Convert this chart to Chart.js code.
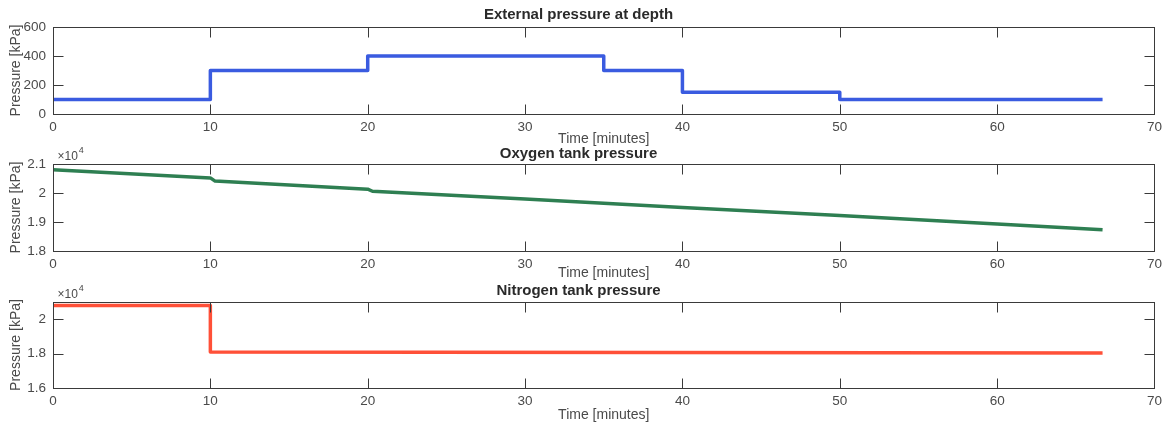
<!DOCTYPE html>
<html>
<head>
<meta charset="utf-8">
<script src="https://cdn.jsdelivr.net/npm/chart.js@4.4.1/dist/chart.umd.min.js"></script>
<style>
  html, body { margin: 0; padding: 0; background: #fff; }
  #wrap { position: relative; width: 1167px; height: 426px; overflow: hidden; background: #fff; }
  #wrap canvas { position: absolute; left: 0; }
</style>
</head>
<body>
<div id="wrap">
  <canvas id="extChart" width="1167" height="150" style="top:0px;width:1167px;height:150px"></canvas>
  <canvas id="o2Chart" width="1167" height="145" style="top:140px;width:1167px;height:145px"></canvas>
  <canvas id="n2Chart" width="1167" height="146" style="top:280px;width:1167px;height:146px"></canvas>
</div>
<script>
// Shared time axis (minutes)
const timeTicks = [0, 10, 20, 30, 40, 50, 60, 70];

// External pressure profile of the dive (kPa)
const extTime = [0, 10, 10, 20, 20, 35, 35, 40, 40, 50, 50, 66.7];
const extPressure = [100, 100, 300, 300, 400, 400, 300, 300, 150, 150, 100, 100];
const extTicks = [0, 200, 400, 600];
const extTickLabels = ['0', '200', '400', '600'];

// Oxygen tank pressure (kPa)
const o2Time = [0, 10, 10.3, 20, 20.3, 30, 40, 50, 60, 66.7];
const o2Pressure = [20800, 20520, 20410, 20130, 20060, 19790, 19500, 19220, 18930, 18730];
const o2Ticks = [18000, 19000, 20000, 21000];
const o2TickLabels = ['1.8', '1.9', '2', '2.1'];

// Nitrogen tank pressure (kPa)
const n2Time = [0, 10, 10, 66.7];
const n2Pressure = [20800, 20800, 18090, 18040];
const n2Ticks = [16000, 18000, 20000];
const n2TickLabels = ['1.6', '1.8', '2'];

const FONT = '"Liberation Sans", Arial, Helvetica, sans-serif';
Chart.defaults.font.family = FONT;
Chart.defaults.color = '#4a4a4a';

// Boxed axes with inward tick marks and an optional "x10^n" multiplier
const axesBox = {
  id: 'axesBox',
  afterDatasetsDraw(chart, args, opts) {
    const { ctx, chartArea: a, scales: { x, y } } = chart;
    const L = Math.round(a.left) + 0.5, R = Math.round(a.right) + 0.5;
    const T = Math.round(a.top) + 0.5, B = Math.round(a.bottom) + 0.5;
    const len = 10;
    ctx.save();
    ctx.strokeStyle = '#3a3a3a';
    ctx.lineWidth = 1;
    ctx.strokeRect(L, T, R - L, B - T);
    ctx.beginPath();
    x.ticks.forEach(t => {
      const px = Math.round(x.getPixelForValue(t.value)) + 0.5;
      if (px <= L + 1 || px >= R - 1) return;
      ctx.moveTo(px, B); ctx.lineTo(px, B - len);
      ctx.moveTo(px, T); ctx.lineTo(px, T + len);
    });
    y.ticks.forEach(t => {
      const py = Math.round(y.getPixelForValue(t.value)) + 0.5;
      if (py <= T + 1 || py >= B - 1) return;
      ctx.moveTo(L, py); ctx.lineTo(L + len, py);
      ctx.moveTo(R, py); ctx.lineTo(R - len, py);
    });
    ctx.stroke();
    if (opts && opts.exponent) {
      ctx.fillStyle = '#4a4a4a';
      ctx.textBaseline = 'middle';
      ctx.textAlign = 'left';
      ctx.font = '12px ' + FONT;
      const base = '\u00d710';
      const bx = L + 4, by = T - 8;
      ctx.fillText(base, bx, by);
      const w = ctx.measureText(base).width;
      ctx.font = '9px ' + FONT;
      ctx.fillText(opts.exponent, bx + w + 1, by - 6);
    }
    ctx.restore();
  }
};

function makePanel(id, cfg) {
  const canvas = document.getElementById(id);
  const H = canvas.height;
  return new Chart(canvas, {
    type: 'line',
    data: {
      datasets: [{
        data: cfg.time.map((t, i) => ({ x: t, y: cfg.values[i] })),
        borderColor: cfg.color,
        borderWidth: 3.5,
        pointRadius: 0,
        fill: false,
        tension: 0,
        borderJoinStyle: 'round',
        borderCapStyle: 'butt'
      }]
    },
    options: {
      responsive: false,
      animation: false,
      events: [],
      layout: { padding: { left: 0, right: 10, top: 0, bottom: 0 } },
      plugins: {
        legend: { display: false },
        tooltip: { enabled: false },
        title: {
          display: true,
          text: cfg.title,
          color: '#2a2a2a',
          font: { size: 15, weight: 'bold', lineHeight: 1.2 },
          padding: { top: cfg.titleTop, bottom: cfg.titleBottom }
        },
        axesBox: { exponent: cfg.exponent || null }
      },
      scales: {
        x: {
          type: 'linear',
          min: 0, max: 70,
          grid: { display: false, drawTicks: false },
          border: { display: false },
          afterBuildTicks: s => { s.ticks = timeTicks.map(v => ({ value: v })); },
          afterFit: s => { s.height = H - cfg.bottom; },
          ticks: { padding: 5, color: '#4a4a4a', font: { size: 13.5 }, maxRotation: 0, autoSkip: false },
          title: {
            display: true, text: 'Time [minutes]', color: '#4a4a4a',
            font: { size: 14, lineHeight: 1.2 },
            padding: { top: 0, bottom: cfg.xTitleBottom }
          }
        },
        y: {
          type: 'linear',
          min: cfg.min, max: cfg.max,
          grid: { display: false, drawTicks: false },
          border: { display: false },
          afterBuildTicks: s => { s.ticks = cfg.ticks.map(v => ({ value: v })); },
          afterFit: s => { s.width = 53; },
          ticks: {
            padding: 7, color: '#4a4a4a', font: { size: 13.5 }, autoSkip: false,
            callback: v => cfg.tickLabels[cfg.ticks.indexOf(v)]
          },
          title: {
            display: true, text: 'Pressure [kPa]', color: '#4a4a4a',
            font: { size: 14, lineHeight: 1.2 },
            padding: { top: 7.6, bottom: 0 }
          }
        }
      }
    },
    plugins: [axesBox]
  });
}

makePanel('extChart', {
  title: 'External pressure at depth',
  time: extTime, values: extPressure, color: '#3a5be0',
  min: 0, max: 600, ticks: extTicks, tickLabels: extTickLabels,
  titleTop: 6, titleBottom: 3, bottom: 114, xTitleBottom: 2.6
});

makePanel('o2Chart', {
  title: 'Oxygen tank pressure',
  time: o2Time, values: o2Pressure, color: '#2e7f52',
  min: 18000, max: 21000, ticks: o2Ticks, tickLabels: o2TickLabels,
  titleTop: 5, titleBottom: 1, bottom: 111, xTitleBottom: 3.6, exponent: '4'
});

makePanel('n2Chart', {
  title: 'Nitrogen tank pressure',
  time: n2Time, values: n2Pressure, color: '#ff5038',
  min: 16000, max: 21000, ticks: n2Ticks, tickLabels: n2TickLabels,
  titleTop: 2, titleBottom: 2, bottom: 108, xTitleBottom: 2.6, exponent: '4'
});
</script>
</body>
</html>
